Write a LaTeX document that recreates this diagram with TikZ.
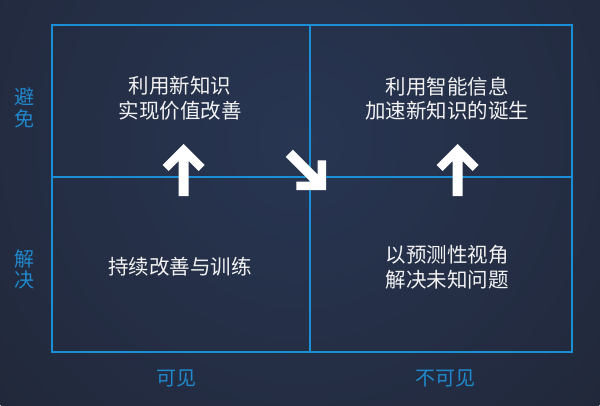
\documentclass[tikz,border=0pt]{standalone}
\usepackage{fontspec}
\newfontfamily\cjk{Noto Sans CJK SC}
\definecolor{bgin}{HTML}{283653}
\definecolor{bgout}{HTML}{21283A}
\definecolor{gridblue}{HTML}{1A8FD6}
\definecolor{labblue}{HTML}{2088CB}
\definecolor{txtwhite}{HTML}{F2F2F2}
\tikzset{
  gridline/.style={draw=gridblue, line width=2pt},
  celltext/.style={text=txtwhite, font=\cjk\fontsize{20.5}{24.7}\selectfont, align=center, inner sep=0pt},
  axislab/.style={text=labblue, font=\cjk\fontsize{20}{21.6}\selectfont, align=center, inner sep=0pt},
  bigarrow/.style={fill=white, draw=none},
}
\begin{document}
\begin{tikzpicture}[x=1pt,y=-1pt]
  \useasboundingbox (0,0) rectangle (600,405);
  % background
  \fill[bgout] (0,0) rectangle (600,405);
  \begin{scope}
    \clip (0,0) rectangle (600,405);
    \shade[inner color=bgin, outer color=bgout] (300,140) circle (400);
  \end{scope}
  % grid
  \coordinate (tl) at (52,25);
  \coordinate (br) at (572,352);
  \coordinate (mt) at (310,25);
  \coordinate (mb) at (310,352);
  \coordinate (ml) at (52,177);
  \coordinate (mr) at (572,177);
  \draw[gridline] (tl) rectangle (br);
  \draw[gridline] (mt) -- (mb);
  \draw[gridline] (ml) -- (mr);
  % cell texts
  \node[celltext] (q1) at (180,98.5) {利用新知识\\实现价值改善};
  \node[celltext] (q2) at (447,98.5) {利用智能信息\\加速新知识的诞生};
  \node[celltext] (q3) at (180,267) {持续改善与训练};
  \node[celltext] (q4) at (447,267) {以预测性视角\\解决未知问题};
  % axis labels
  \node[axislab] (avoid) at (24.2,107.5) {避\\免};
  \node[axislab] (solve) at (24.2,269.5) {解\\决};
  \node[axislab] (vis) at (176,378) {可见};
  \node[axislab] (invis) at (445,378) {不可见};
  % up arrows
  \foreach \tx/\nm in {183.7/upa, 457.7/upb}{
    \fill[bigarrow] (\tx,144) -- ++(21,21) -- ++(-6,6) -- ++(-10,-10) -- ++(0,35)
      -- ++(-10,0) -- ++(0,-35) -- ++(-10,10) -- ++(-6,-6) -- cycle;
  }
  % diagonal arrow
  \fill[bigarrow] (326,190) -- (296.3,190) -- (296.3,181.5) -- (310.4,181.5)
    -- (285.7,156.8) -- (292.8,149.7) -- (317.5,174.4) -- (317.5,160.3)
    -- (326,160.3) -- cycle;
\end{tikzpicture}
\end{document}
